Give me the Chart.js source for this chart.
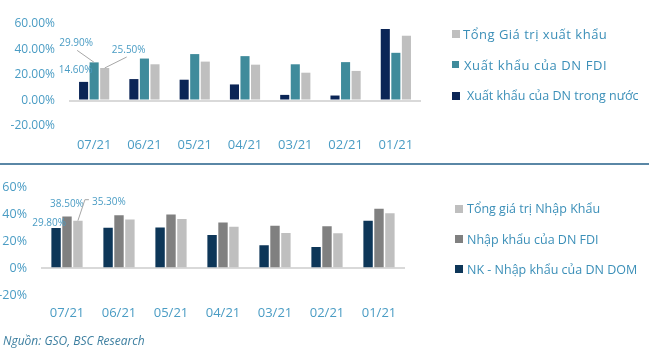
<!DOCTYPE html>
<html>
<head>
<meta charset="utf-8">
<script src="https://cdn.jsdelivr.net/npm/chart.js@4"></script>
<style>
  body { margin: 0; width: 649px; height: 353px; background: #fff; position: relative; overflow: hidden; font-family: 'Open Sans', sans-serif; }
  .box { position: absolute; left: 0; width: 649px; }
  .sep { position: absolute; left: 0; top: 163px; width: 649px; height: 2px; background: #5a87a6; }
  .legend { position: absolute; color: #3b8fb8; }
  .legend div { display: flex; align-items: center; white-space: nowrap; }
  .legend span.sq { display: inline-block; flex: none; }
  .source { position: absolute; left: 3px; top: 332px; font-style: italic; font-size: 12px; color: #3d7fa0; }
</style>
</head>
<body>
<div class="box" style="top:0;height:164px"><canvas id="xuatKhau"></canvas></div>
<div class="sep"></div>
<div class="box" style="top:166px;height:187px"><canvas id="nhapKhau"></canvas></div>
<div class="legend" id="legendXK" style="left:452px;top:19px"></div>
<div class="legend" id="legendNK" style="left:455px;top:193px"></div>
<div class="source">Nguồn: GSO, BSC Research</div>

<script>
// Tháng (mới nhất bên trái)
const thang = ['07/21', '06/21', '05/21', '04/21', '03/21', '02/21', '01/21'];

// Xuất khẩu - tăng trưởng (%)
const xkTrongNuoc = [14.6, 16.8, 16.3, 12.6, 4.4, 3.9, 56.1];
const xkFDI       = [29.9, 32.9, 36.4, 34.8, 28.4, 30.1, 37.4];
const xkTong      = [25.5, 28.4, 30.5, 28.1, 21.8, 23.2, 50.8];

// Nhập khẩu - tăng trưởng (%)
const nkDOM  = [29.8, 30.1, 30.3, 24.7, 17.0, 15.8, 35.2];
const nkFDI  = [38.5, 39.4, 39.9, 34.0, 31.5, 31.2, 44.1];
const nkTong = [35.3, 36.1, 36.6, 30.8, 26.1, 25.9, 40.8];

const yTicks = [-20, 0, 20, 40, 60];

const textBlue = '#4a9cc4';

// Nhãn dữ liệu của tháng 07/21 (kèm đường dẫn)
const nhanDuLieu = {
    id: 'nhanDuLieu',
    afterDatasetsDraw(chart, args, opts) {
        const ctx = chart.ctx;
        ctx.save();
        ctx.font = '10px "Open Sans"';
        ctx.textAlign = 'center';
        ctx.textBaseline = 'middle';
        opts.items.forEach(it => {
            const bar = chart.getDatasetMeta(it.ds).data[0];
            const val = chart.data.datasets[it.ds].data[0];
            const lx = bar.x + it.dx, ly = bar.y + it.dy;
            if (it.line) {
                ctx.strokeStyle = '#a6a6a6';
                ctx.lineWidth = 1;
                ctx.beginPath();
                ctx.moveTo(bar.x + it.line[0][0], bar.y + it.line[0][1]);
                for (let k = 1; k < it.line.length; k++) ctx.lineTo(bar.x + it.line[k][0], bar.y + it.line[k][1]);
                ctx.stroke();
            }
            ctx.fillStyle = textBlue;
            ctx.fillText(val.toFixed(2) + '%', lx, ly);
        });
        ctx.restore();
    }
};

function taoBieuDo(id, datasets, cfg) {
    const ctx = document.getElementById(id).getContext('2d');
    return new Chart(ctx, {
        type: 'bar',
        data: { labels: thang, datasets: datasets },
        plugins: [nhanDuLieu],
        options: {
            responsive: true,
            maintainAspectRatio: false,
            animation: false,
            layout: { padding: { top: cfg.top, right: cfg.right, left: 0, bottom: 0 } },
            datasets: { bar: { categoryPercentage: 0.63, barPercentage: 0.86 } },
            scales: {
                x: {
                    grid: { display: false, drawTicks: false },
                    border: { display: false },
                    ticks: { color: textBlue, font: { family: 'Open Sans', size: 13 }, padding: cfg.xPad, maxRotation: 0 },
                    afterFit: s => { s.height = cfg.xHeight; }
                },
                y: {
                    min: -20, max: 60,
                    afterBuildTicks: s => { s.ticks = yTicks.map(v => ({ value: v })); },
                    grid: {
                        drawTicks: false,
                        lineWidth: 2,
                        color: c => c.tick && c.tick.value === 0 ? '#d9d9d9' : 'rgba(0,0,0,0)'
                    },
                    border: { display: false },
                    ticks: {
                        color: textBlue,
                        font: { family: 'Open Sans', size: cfg.yFont },
                        padding: 14,
                        callback: v => v.toFixed(cfg.dec) + '%'
                    },
                    afterFit: s => { s.width = cfg.yWidth; }
                }
            },
            plugins: {
                legend: { display: false },
                tooltip: { enabled: false },
                nhanDuLieu: { items: cfg.labels }
            }
        }
    });
}

function taoChuGiai(elId, chart, rows) {
    const el = document.getElementById(elId);
    const ds = chart.data.datasets.slice().reverse();
    ds.forEach((d, i) => {
        const r = rows[i];
        const row = document.createElement('div');
        row.style.height = r.h + 'px';
        row.style.fontSize = r.font + 'px';
        row.style.letterSpacing = (r.ls || 0) + 'px';
        const sq = document.createElement('span');
        sq.className = 'sq';
        sq.style.width = r.sq + 'px';
        sq.style.height = r.sq + 'px';
        sq.style.background = d.backgroundColor;
        sq.style.marginRight = r.gap + 'px';
        const tx = document.createElement('span');
        tx.textContent = d.label;
        row.appendChild(sq);
        row.appendChild(tx);
        el.appendChild(row);
    });
}

const chartXK = taoBieuDo('xuatKhau', [
    { label: 'Xuất khẩu của DN trong nước', data: xkTrongNuoc, backgroundColor: '#0b2556' },
    { label: 'Xuất khẩu của DN FDI', data: xkFDI, backgroundColor: '#3f8b9b' },
    { label: 'Tổng Giá trị xuất khẩu', data: xkTong, backgroundColor: '#bfbfbf' }
], {
    top: 24, right: 228, xHeight: 38, xPad: 11, yWidth: 69, yFont: 12, dec: 2,
    labels: [
        { ds: 0, dx: -8, dy: -12 },
        { ds: 1, dx: -18, dy: -19, line: [[-17, -12], [0, 0]] },
        { ds: 2, dx: 24, dy: -18, line: [[22, -11], [0, 0]] }
    ]
});

const chartNK = taoBieuDo('nhapKhau', [
    { label: 'NK - Nhập khẩu của DN DOM', data: nkDOM, backgroundColor: '#0d3658' },
    { label: 'Nhập khẩu của DN FDI', data: nkFDI, backgroundColor: '#808080' },
    { label: 'Tổng giá trị Nhập Khẩu', data: nkTong, backgroundColor: '#bfbfbf' }
], {
    top: 15, right: 244, xHeight: 58, xPad: 10, yWidth: 41, yFont: 12.5, dec: 0,
    labels: [
        { ds: 0, dx: -7, dy: -5 },
        { ds: 1, dx: 0, dy: -12 },
        { ds: 2, dx: 31, dy: -19, line: [[11, -21], [7, -21], [0, 0]] }
    ]
});

taoChuGiai('legendXK', chartXK, [
    { h: 30, font: 13, ls: 0.5, sq: 8, gap: 3 },
    { h: 31, font: 13, ls: 0.6, sq: 7, gap: 5 },
    { h: 31, font: 12.5, sq: 8, gap: 7 }
]);
taoChuGiai('legendNK', chartNK, [
    { h: 31, font: 12.5, sq: 8, gap: 4 },
    { h: 30, font: 12.5, sq: 8, gap: 4 },
    { h: 30, font: 12.5, sq: 8, gap: 4 }
]);
</script>
</body>
</html>
